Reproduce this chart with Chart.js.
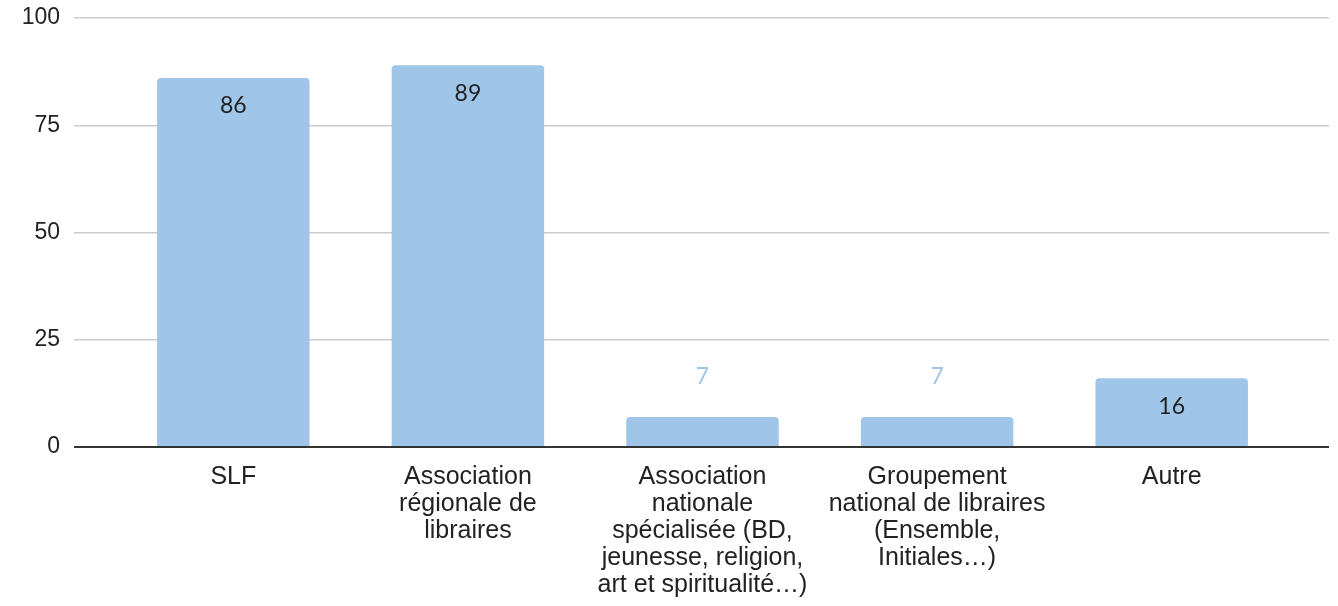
<!DOCTYPE html>
<html>
<head>
<meta charset="utf-8">
<script src="https://cdn.jsdelivr.net/npm/chart.js@4.4.1/dist/chart.umd.min.js"></script>
<style>
  html, body { margin: 0; padding: 0; background: #fff; }
  #wrap { width: 1338px; height: 606px; }
</style>
</head>
<body>
<div id="wrap"><canvas id="adhesion-chart"></canvas></div>
<script>
var categories = [
  'SLF',
  ['Association', 'régionale de', 'libraires'],
  ['Association', 'nationale', 'spécialisée (BD,', 'jeunesse, religion,', 'art et spiritualité…)'],
  ['Groupement', 'national de libraires', '(Ensemble,', 'Initiales…)'],
  'Autre'
];
var counts = [86, 89, 7, 7, 16];
var yTicks = [0, 25, 50, 75, 100];

var barBlue = '#9fc5e8';
var gridGrey = '#cccccc';
var axisDark = '#333333';

function gridColor(ctx) {
  return ctx.tick && ctx.tick.value === 0 ? axisDark : gridGrey;
}
function gridWidth(ctx) {
  return ctx.tick && ctx.tick.value === 0 ? 2 : 1.5;
}
function fixedTicks(scale) {
  scale.ticks = yTicks.map(function(v) { return { value: v }; });
}

// value labels: inside the top of tall bars, above short ones
var valueLabels = {
  id: 'valueLabels',
  afterDatasetsDraw: function(chart) {
    var ctx = chart.ctx;
    var meta = chart.getDatasetMeta(0);
    ctx.save();
    ctx.font = '23px Lato, "Open Sans", sans-serif';
    ctx.textAlign = 'center';
    ctx.textBaseline = 'middle';
    meta.data.forEach(function(bar, i) {
      var v = counts[i];
      if (v >= 10) {
        ctx.fillStyle = '#222222';
        ctx.fillText(String(v), bar.x, bar.y + 28);
      } else {
        ctx.fillStyle = barBlue;
        ctx.fillText(String(v), bar.x, bar.y - 40);
      }
    });
    ctx.restore();
  }
};

new Chart(document.getElementById('adhesion-chart'), {
  type: 'bar',
  data: {
    labels: categories,
    datasets: [{
      data: counts,
      backgroundColor: barBlue,
      borderRadius: { topLeft: 4, topRight: 4, bottomLeft: 0, bottomRight: 0 },
      borderSkipped: 'bottom',
      barPercentage: 0.65,
      categoryPercentage: 1.0
    }]
  },
  options: {
    responsive: true,
    maintainAspectRatio: false,
    animation: false,
    layout: { padding: { top: 18, left: 0, right: 0, bottom: 0 } },
    plugins: {
      legend: { display: false },
      tooltip: { enabled: false }
    },
    scales: {
      x: {
        afterFit: function(scale) {
          scale.height = 159;
          scale.paddingLeft = 0;
          scale.paddingRight = 0;
        },
        grid: { display: false },
        border: { display: false },
        ticks: {
          color: '#222222',
          padding: 9,
          maxRotation: 0,
          autoSkip: false,
          font: { family: '"Liberation Sans", Arial, sans-serif', size: 25, lineHeight: 1.08 }
        }
      },
      y: {
        min: 0,
        max: 100,
        afterBuildTicks: fixedTicks,
        afterFit: function(scale) {
          scale.width = 116;
          scale.paddingTop = 0;
          scale.paddingBottom = 0;
        },
        border: { display: false },
        grid: { color: gridColor, lineWidth: gridWidth, tickLength: 42 },
        ticks: {
          color: '#222222',
          padding: 14,
          font: { family: '"Liberation Sans", Arial, sans-serif', size: 23 }
        }
      },
      yRight: {
        position: 'right',
        min: 0,
        max: 100,
        afterBuildTicks: fixedTicks,
        afterFit: function(scale) {
          scale.width = 49;
          scale.paddingTop = 0;
          scale.paddingBottom = 0;
        },
        border: { display: false },
        grid: { color: gridColor, lineWidth: gridWidth, tickLength: 40, drawOnChartArea: false },
        ticks: { display: false }
      }
    }
  },
  plugins: [valueLabels]
});
</script>
</body>
</html>
